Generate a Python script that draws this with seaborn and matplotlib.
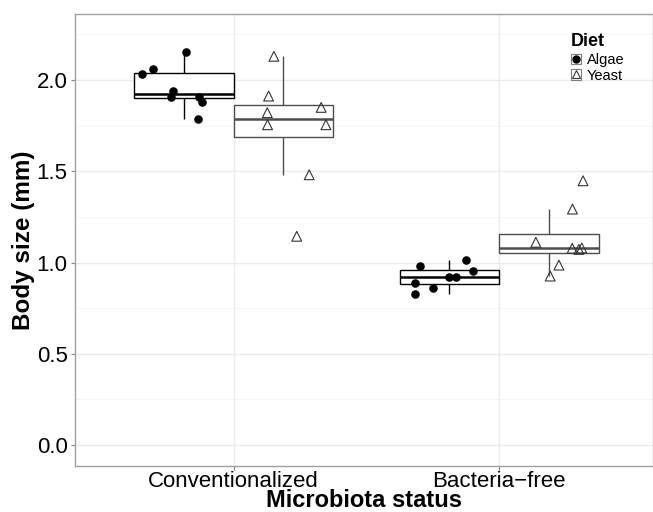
"""
Body size by microbiota status and diet
"""

import numpy as np
import pandas as pd
import matplotlib.pyplot as plt
from matplotlib.lines import Line2D
from matplotlib.patches import Rectangle
import seaborn as sns

STATUS = ['Conventionalized', 'Bacteria\u2212free']
DIETS = ['Algae', 'Yeast']

# body size (mm)
conv_algae = [2.152, 2.060, 2.031, 1.940, 1.907, 1.909, 1.878, 1.785]
conv_yeast = [2.130, 1.912, 1.850, 1.821, 1.755, 1.755, 1.481, 1.144]
bf_algae = [0.981, 0.889, 0.827, 0.860, 0.922, 0.922, 1.015, 0.953]
bf_yeast = [1.448, 1.293, 1.111, 1.078, 1.080, 1.072, 0.986, 0.926]

# horizontal jitter of each point (category units)
conv_algae_jit = [0.009, -0.115, -0.159, -0.041, -0.047, 0.055, 0.069, 0.054]
conv_yeast_jit = [-0.036, -0.056, 0.142, -0.061, -0.060, 0.160, 0.097, 0.050]
bf_algae_jit = [-0.112, -0.131, -0.129, -0.063, 0.0, 0.026, 0.063, 0.089]
bf_yeast_jit = [0.129, 0.089, -0.049, 0.088, 0.124, 0.113, 0.038, 0.005]

BOX_WIDTH = 0.75


def build_frame():
    parts = []
    groups = [
        (STATUS[0], 'Algae', conv_algae, conv_algae_jit),
        (STATUS[0], 'Yeast', conv_yeast, conv_yeast_jit),
        (STATUS[1], 'Algae', bf_algae, bf_algae_jit),
        (STATUS[1], 'Yeast', bf_yeast, bf_yeast_jit),
    ]
    for status, diet, vals, jit in groups:
        parts.append(pd.DataFrame({'status': status, 'diet': diet,
                                   'size': vals, 'jitter': jit}))
    df = pd.concat(parts, ignore_index=True)
    # position on the categorical axis: category + dodge + jitter
    code = df['status'].map({s: i for i, s in enumerate(STATUS)})
    dodge = df['diet'].map({'Algae': -BOX_WIDTH / 4, 'Yeast': BOX_WIDTH / 4})
    df['xpos'] = code + dodge + df['jitter']
    return df


df = build_frame()

sns.set_theme(style='white')
plt.rcParams['font.family'] = ['Liberation Sans', 'DejaVu Sans']
plt.rcParams['text.color'] = 'black'

fig = plt.figure(figsize=(6.53, 5.12), dpi=100)
ax = fig.add_axes([0.1141, 0.0904, 0.8859, 0.8813])

sns.boxplot(data=df, x='status', y='size', hue='diet', order=STATUS,
            hue_order=DIETS, palette={'Algae': 'white', 'Yeast': 'white'},
            width=BOX_WIDTH, gap=0, linecolor='black', linewidth=1.0,
            showcaps=False, showfliers=False, legend=False,
            medianprops={'linewidth': 1.8}, ax=ax, zorder=2)

# Yeast boxes are drawn in dark gray
for cont, col in zip(ax.containers, ['black', '#4d4d4d']):
    for art in list(cont.boxes):
        art.set_edgecolor(col)
    for art in list(cont.whiskers) + list(cont.medians):
        art.set_color(col)

algae = df[df['diet'] == 'Algae']
yeast = df[df['diet'] == 'Yeast']
ax.scatter(algae['xpos'], algae['size'], s=38, marker='o', color='black',
           linewidths=0, zorder=4)
ax.scatter(yeast['xpos'], yeast['size'], s=50, marker='^', facecolors='none',
           edgecolors='#333333', linewidths=0.8, zorder=4)

ax.set_xlim(-0.6, 1.58)
ax.set_ylim(-0.113, 2.359)
ax.set_yticks([0.0, 0.5, 1.0, 1.5, 2.0])
ax.set_yticklabels(['0.0', '0.5', '1.0', '1.5', '2.0'])
ax.set_yticks([0.25, 0.75, 1.25, 1.75, 2.25], minor=True)
ax.set_xticks([0, 1])
ax.set_xticklabels(STATUS)

ax.grid(True, which='major', color='#ebebeb', linewidth=1.0, zorder=0)
ax.grid(True, which='minor', axis='y', color='#f5f5f5', linewidth=0.6, zorder=0)
ax.set_axisbelow(True)

for sp in ax.spines.values():
    sp.set_color('#a0a0a0')
    sp.set_linewidth(1.0)

ax.tick_params(axis='both', which='major', direction='out', length=3,
               width=0.8, color='#888888', labelsize=16, labelcolor='black',
               pad=2, bottom=True, left=True)
ax.tick_params(axis='x', which='major', pad=0.5)
ax.tick_params(axis='y', which='minor', length=0)

ax.set_xlabel('Microbiota status', fontsize=17, fontweight='bold', color='black')
ax.set_ylabel('Body size (mm)', fontsize=17.5, fontweight='bold', color='black')
ax.xaxis.set_label_coords(0.5, -0.052)
ax.yaxis.set_label_coords(-0.068, 0.5)

# legend: small keys with a box behind the point
handles = [
    (Rectangle((0, 0), 1, 1, facecolor='white', edgecolor='#7f7f7f', linewidth=0.8),
     Line2D([], [], marker='o', linestyle='', color='black', markersize=5)),
    (Rectangle((0, 0), 1, 1, facecolor='white', edgecolor='#7f7f7f', linewidth=0.8),
     Line2D([], [], marker='^', linestyle='', markerfacecolor='none',
            markeredgecolor='#333333', markersize=5.5, markeredgewidth=0.8)),
]
leg = ax.legend(handles, DIETS, title='Diet', loc='upper left',
                bbox_to_anchor=(571 / 653, 1 - 33 / 512),
                bbox_transform=fig.transFigure, frameon=False,
                fontsize=10.5, handlelength=0.7, handleheight=0.7,
                handletextpad=0.4, labelspacing=0.12, borderpad=0,
                borderaxespad=0, title_fontproperties={'weight': 'bold', 'size': 13})
leg._legend_box.align = 'left'
leg._legend_box.sep = 2

fig.savefig('out.png', dpi=100)
